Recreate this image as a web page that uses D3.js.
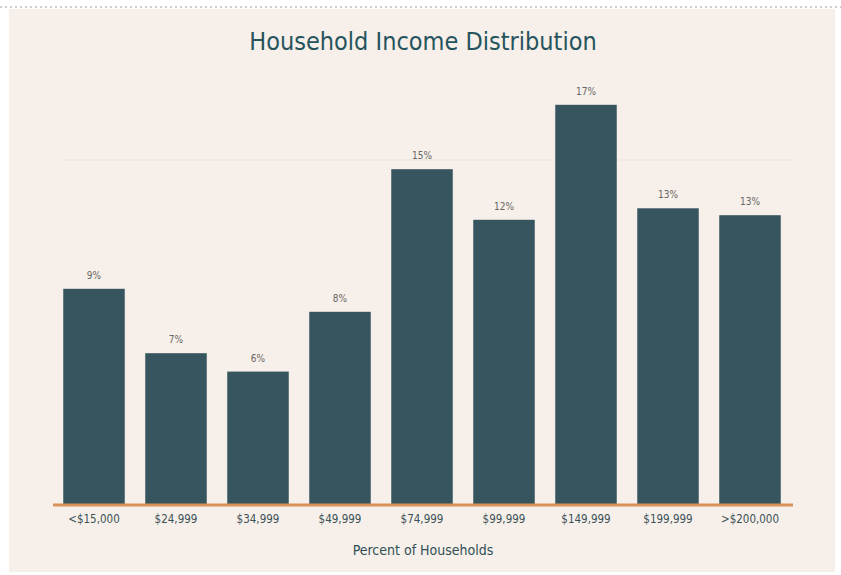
<!DOCTYPE html>
<html>
<head>
<meta charset="utf-8">
<script src="https://cdn.jsdelivr.net/npm/d3@7"></script>
<style>
  body { margin: 0; background: #fff; }
  svg { display: block; }
</style>
</head>
<body>
<svg id="chart" width="841" height="575"></svg>
<script>
const categories = ['<$15,000', '$24,999', '$34,999', '$49,999', '$74,999', '$99,999', '$149,999', '$199,999', '>$200,000'];
const percents = [9.4, 6.6, 5.8, 8.4, 14.6, 12.4, 17.4, 12.9, 12.6];
const gridTicks = [15];

const svg = d3.select('#chart');
const W = 841, H = 575;
const margin = { top: 45, right: 50, bottom: 70, left: 53 };

// page background + dotted top rule
svg.append('rect')
  .attr('x', 9).attr('y', 9)
  .attr('width', 826).attr('height', H - 12)
  .attr('fill', '#f7efe9');
svg.append('line')
  .attr('x1', 0).attr('x2', W)
  .attr('y1', 7).attr('y2', 7)
  .attr('stroke', '#cfcccb')
  .attr('stroke-width', 2)
  .attr('stroke-dasharray', '2,3');

const x = d3.scaleBand()
  .domain(categories)
  .range([margin.left, 791])
  .paddingInner(0.25)
  .paddingOuter(0.125);

const y = d3.scaleLinear()
  .domain([0, 20])
  .range([H - margin.bottom, margin.top]);

// faint grid
svg.append('g')
  .selectAll('line')
  .data(gridTicks)
  .join('line')
  .attr('x1', margin.left + 8).attr('x2', 793)
  .attr('y1', d => y(d)).attr('y2', d => y(d))
  .attr('stroke', '#f0e7e0')
  .attr('stroke-width', 1.5);

svg.append('g')
  .selectAll('rect')
  .data(percents)
  .join('rect')
  .attr('x', (d, i) => x(categories[i]))
  .attr('y', d => y(d))
  .attr('width', x.bandwidth())
  .attr('height', d => y(0) - y(d))
  .attr('fill', '#36555e');

svg.append('g')
  .selectAll('text')
  .data(percents)
  .join('text')
  .attr('x', (d, i) => x(categories[i]) + x.bandwidth() / 2)
  .attr('y', d => y(d) - 10)
  .attr('text-anchor', 'middle')
  .attr('font-family', 'DejaVu Sans Condensed, sans-serif')
  .attr('font-size', 10)
  .attr('fill', '#666')
  .text(d => Math.round(d) + '%');

// x axis
const xAxis = svg.append('g')
  .attr('transform', `translate(0,${y(0)})`)
  .call(d3.axisBottom(x).tickSize(0).tickPadding(10));
xAxis.select('.domain')
  .attr('d', `M${margin.left},0H793`)
  .attr('stroke', '#d9925a')
  .attr('stroke-width', 3);
xAxis.selectAll('text')
  .attr('font-family', 'DejaVu Sans Condensed, sans-serif')
  .attr('font-size', 11.5)
  .attr('fill', '#3b5258');

svg.append('text')
  .attr('x', (margin.left + 793) / 2)
  .attr('y', 555)
  .attr('text-anchor', 'middle')
  .attr('font-family', 'DejaVu Sans Condensed, sans-serif')
  .attr('font-size', 14)
  .attr('fill', '#2f4f56')
  .text('Percent of Households');

svg.append('text')
  .attr('x', 423)
  .attr('y', 50)
  .attr('text-anchor', 'middle')
  .attr('font-family', 'DejaVu Sans Condensed, sans-serif')
  .attr('font-size', 25)
  .attr('fill', '#25545d')
  .text('Household Income Distribution');
</script>
</body>
</html>
